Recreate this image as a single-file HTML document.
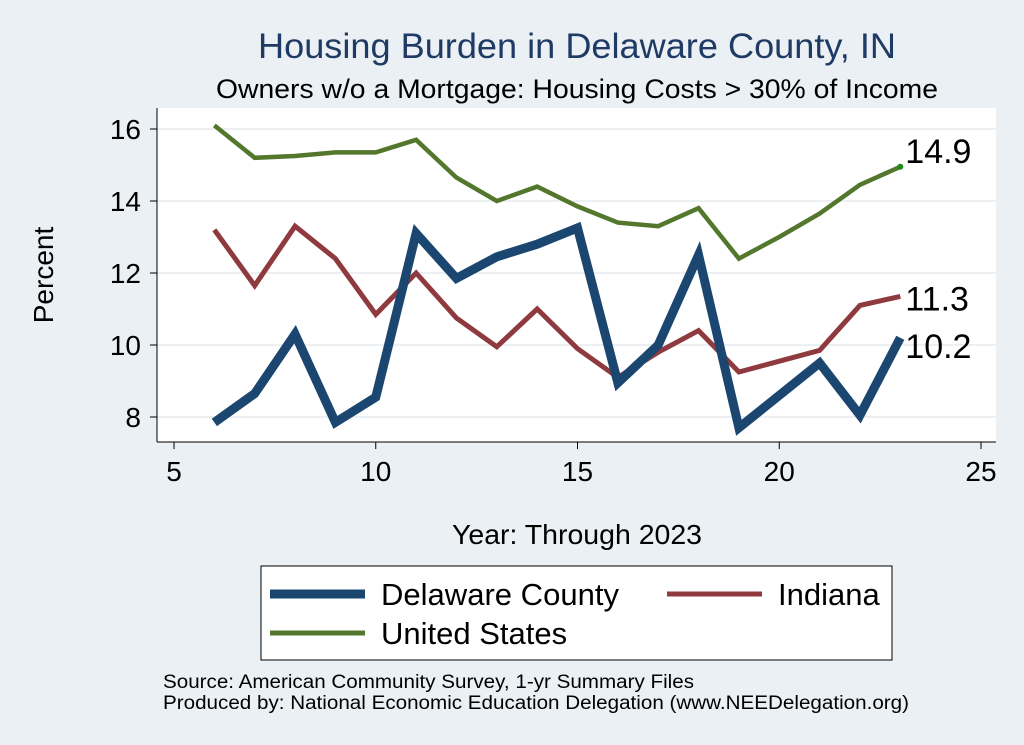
<!DOCTYPE html>
<html><head><meta charset="utf-8"><style>
body{margin:0;background:#eaf0f3;}
svg{display:block;font-family:"Liberation Sans",sans-serif;}
</style></head><body>
<svg width="1024" height="745">
<rect x="0" y="0" width="1024" height="745" fill="#eaf0f3"/>
<rect x="157" y="108" width="839" height="334" fill="#fff"/>
<text x="577" y="58" text-anchor="middle" font-size="35" textLength="638" lengthAdjust="spacingAndGlyphs" fill="#1f3a64">Housing Burden in Delaware County, IN</text>
<text x="577" y="98" text-anchor="middle" font-size="27" textLength="722" lengthAdjust="spacingAndGlyphs" fill="#000">Owners w/o a Mortgage: Housing Costs &gt; 30% of Income</text>
<g id="grid"></g><g id="axes"></g><g id="series"></g>
<text x="53" y="275" text-anchor="middle" font-size="28" transform="rotate(-90 53 275)">Percent</text>
<text x="577" y="544" text-anchor="middle" font-size="28" textLength="250" lengthAdjust="spacingAndGlyphs">Year: Through 2023</text>
<g>
<rect x="261" y="566" width="631" height="94" fill="#fff" stroke="#000" stroke-width="1"/>
<line x1="270" y1="594" x2="365" y2="594" stroke="#1a4670" stroke-width="9"/>
<text x="381" y="605" font-size="31" textLength="238" lengthAdjust="spacingAndGlyphs">Delaware County</text>
<line x1="667" y1="594" x2="762" y2="594" stroke="#8f3a3e" stroke-width="5"/>
<text x="778" y="605" font-size="31">Indiana</text>
<line x1="270" y1="633" x2="365" y2="633" stroke="#53782d" stroke-width="5"/>
<text x="381" y="644" font-size="31">United States</text>
</g>
<text x="163" y="688" font-size="19" textLength="531" lengthAdjust="spacingAndGlyphs">Source: American Community Survey, 1-yr Summary Files</text>
<text x="163" y="709" font-size="19" textLength="746" lengthAdjust="spacingAndGlyphs">Produced by: National Economic Education Delegation (www.NEEDelegation.org)</text>
</svg>
<script>
const years=[6,7,8,9,10,11,12,13,14,15,16,17,18,19,20,21,22,23];
const delaware=[7.85,8.65,10.3,7.85,8.55,13.1,11.85,12.45,12.8,13.25,8.95,10.0,12.5,7.7,8.6,9.5,8.05,10.2];
const indiana=[13.2,11.65,13.3,12.4,10.85,12.0,10.75,9.95,11.0,9.9,9.1,9.8,10.4,9.25,9.55,9.85,11.1,11.35];
const us=[16.1,15.2,15.25,15.35,15.35,15.7,14.65,14.0,14.4,13.85,13.4,13.3,13.8,12.4,13.0,13.65,14.45,14.95];
const xTicks=[5,10,15,20,25];
const yTicks=[8,10,12,14,16];
const endLabels=["10.2","11.3","14.9"];
const NS="http://www.w3.org/2000/svg";
const X=v=>174+(v-5)*40.35;
const Y=v=>417-(v-8)*36;
function mk(t,a,p){const e=document.createElementNS(NS,t);for(const k in a)e.setAttribute(k,a[k]);p.appendChild(e);return e;}
const grid=document.getElementById('grid'),axes=document.getElementById('axes'),ser=document.getElementById('series');
mk('line',{x1:157,y1:108,x2:157,y2:442,stroke:'#000'},axes);
mk('line',{x1:157,y1:442,x2:996,y2:442,stroke:'#000'},axes);
yTicks.forEach(t=>{
 const g=mk('line',{x1:157,x2:996,y1:Y(t),y2:Y(t),stroke:'#e6ecef','stroke-width':1.5},grid);
 
 mk('line',{x1:150,x2:157,y1:Y(t),y2:Y(t),stroke:'#000'},axes);
 const tx=mk('text',{x:141,y:Y(t)+10,'text-anchor':'end','font-size':28},axes);tx.textContent=t;
 
});
xTicks.forEach(t=>{
 mk('line',{x1:X(t),x2:X(t),y1:442,y2:449,stroke:'#000'},axes);
 const tx=mk('text',{x:X(t),y:481,'text-anchor':'middle','font-size':28},axes);tx.textContent=t;
 
});
function line(data,col,w,name){
 const p=mk('polyline',{points:data.map((v,i)=>X(years[i])+','+Y(v)).join(' '),fill:'none',stroke:col,'stroke-width':w,'stroke-linejoin':'miter'},ser);
 
}
line(us,'#53782d',4.5,'line-united-states');
line(indiana,'#8f3a3e',5,'line-indiana');
line(delaware,'#1a4670',9,'line-delaware-county');
const last=years.length-1;
mk('circle',{cx:X(years[last]),cy:Y(us[last]),r:3,fill:'#1a8a1a'},ser);
[[delaware,endLabels[0],20],[indiana,endLabels[1],14],[us,endLabels[2],-4]].forEach(([d,l,dy])=>{
 const t=mk('text',{x:X(years[last])+5,y:Y(d[last])+dy,'font-size':34},ser);t.textContent=l;
 
});
</script>
</body></html>
